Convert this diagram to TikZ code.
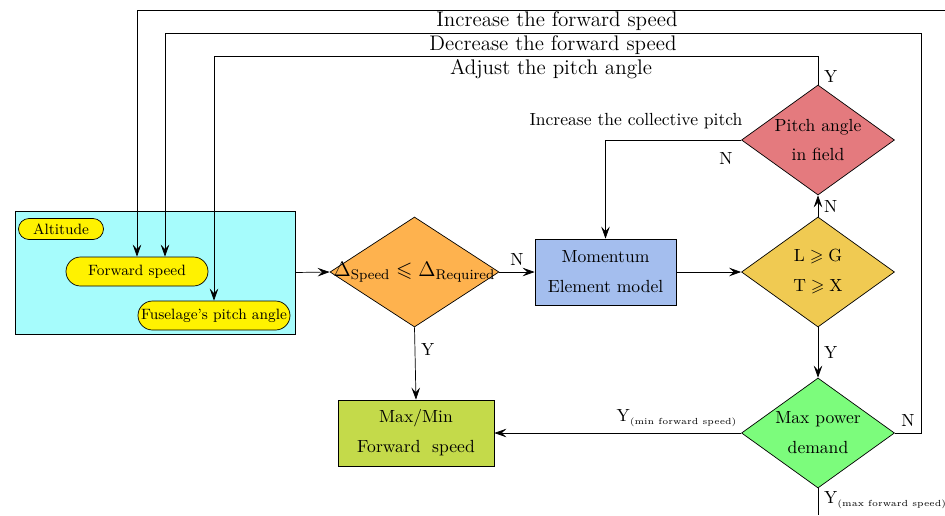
\documentclass[tikz,border=0pt]{standalone}
\usepackage{amsmath}
\usepackage{amssymb}
\usepackage{xcolor}
\usetikzlibrary{shapes.geometric,arrows.meta}

\definecolor{inputcyan}{RGB}{166,252,252}
\definecolor{checkorange}{RGB}{254,178,78}
\definecolor{modelblue}{RGB}{164,190,238}
\definecolor{forcegold}{RGB}{240,202,82}
\definecolor{pitchred}{RGB}{228,122,126}
\definecolor{powergreen}{RGB}{124,252,124}
\definecolor{resultolive}{RGB}{196,218,74}

\begin{document}
\begin{tikzpicture}[>={Stealth[length=2.4mm,width=1.7mm,inset=0.9mm]},
    pill/.style={draw, fill=yellow, font=\fontsize{8.5}{10}\selectfont, inner sep=0pt},
    block/.style={draw, align=center, minimum width=2.82cm, minimum height=1.32cm},
    decision/.style={draw, diamond, inner sep=0pt, minimum width=3.06cm, minimum height=2.2cm},
    lbl/.style={font=\large}
  ]
    \useasboundingbox (0,0) rectangle (18.9,-10.3);

    % Ingressi
    \node[draw, fill=inputcyan, minimum width=5.6cm, minimum height=2.46cm] (inputs) at (3.1,-5.45) {};
    \node[pill, rounded corners=0.21cm, minimum width=1.7cm, minimum height=0.42cm] (alt) at (1.22,-4.58) {Altitude};
    \node[pill, rounded corners=0.29cm, minimum width=2.84cm, minimum height=0.58cm] (fspeed) at (2.74,-5.43) {Forward speed};
    \node[pill, rounded corners=0.29cm, minimum width=3.04cm, minimum height=0.58cm] (fuse) at (4.28,-6.31) {Fuselage's pitch angle};

    % Blocchi e decisioni
    \node[decision, fill=checkorange, minimum width=3.38cm,
        label={center:\large $\Delta_{\text{Speed}}\leqslant\Delta_{\text{Required}}$}] (check) at (8.29,-5.44) {};
    \node[block, fill=modelblue] (mom) at (12.11,-5.44) {Momentum\\[5pt]Element model};
    \node[decision, fill=forcegold,
        label={[align=center]center:$\mathrm{L}\geqslant\mathrm{G}$\\[5pt]$\mathrm{T}\geqslant\mathrm{X}$}] (force) at (16.36,-5.44) {};
    \node[decision, fill=pitchred,
        label={[align=center]center:Pitch angle\\[5pt]in field}] (pitch) at (16.36,-2.8) {};
    \node[decision, fill=powergreen,
        label={[align=center]center:Max power\\[5pt]demand}] (power) at (16.36,-8.66) {};
    \node[block, fill=resultolive, minimum width=3.12cm] (maxmin) at (8.32,-8.66) {Max/Min\\[5pt]Forward\ \ speed};

    % Estremi fuori figura
    \coordinate (incEnd) at (18.9,-0.2);
    \coordinate (maxEnd) at (16.36,-10.3);
    \coordinate (decCorner) at (18.42,-0.66);

    % Collegamenti
    \draw[->] (inputs.east) -- (check.west);
    \draw[->] (check.east) -- node[above] {N} (mom.west);
    \draw[->] (mom.east) -- (force.west);
    \draw[->] (force.north) -- node[right] {N} (pitch.south);
    \draw[->] (force.south) -- node[right] {Y} (power.north);
    \draw[->] (check.south) -- node[right, pos=0.3] {Y} (maxmin.north);
    \draw[->] (power.west) -- node[above, pos=0.26] {Y$_{\text{\tiny(min forward speed)}}$} (maxmin.east);
    \draw (power.south) -- node[right, pos=0.44] {Y$_{\text{\tiny(max forward speed)}}$} (maxEnd);

    \draw[->] (incEnd) -| (fspeed.north);
    \draw[->] (power.east) -| node[above, pos=0.25] {N} (decCorner) -| ([xshift=0.56cm]fspeed.north);
    \draw[->] (pitch.north) -- node[right, pos=0.3] {Y} ++(0,0.56) -| (fuse.north);
    \draw[->] (pitch.west) -| (mom.north);

    % Etichette
    \node[lbl] (incTxt) at (11.14,-0.42) {Increase the forward speed};
    \node[lbl] (decTxt) at (11.06,-0.9) {Decrease the forward speed};
    \node[lbl] (adjTxt) at (11.02,-1.38) {Adjust the pitch angle};
    \node (colTxt) at (12.72,-2.42) {Increase the collective pitch};
    \node (pitchN) at (14.52,-3.16) {N};
\end{tikzpicture}
\end{document}
